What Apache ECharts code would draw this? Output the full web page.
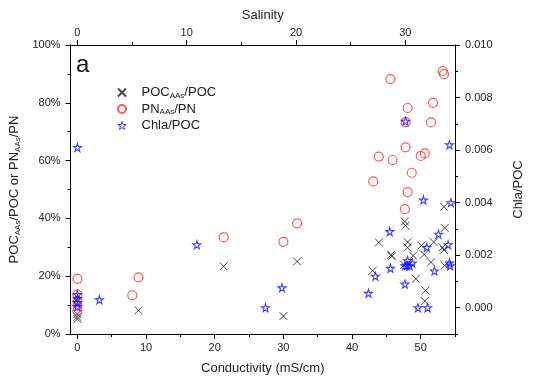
<!DOCTYPE html>
<html><head><meta charset="utf-8">
<script src="https://cdn.jsdelivr.net/npm/echarts@6/dist/echarts.min.js"></script>
<style>html,body{margin:0;padding:0;background:#fff}#c{width:533px;height:380px}</style>
</head><body><div id="c"></div>
<script>
// Data: [conductivity (mS/cm), value]
var pocAAs = [[0,6.9],[0,5.9],[0,5.2],[8.9,8.2],[21.3,23.4],[32.0,25.1],[30.0,6.2],
  [53.4,44.0],[47.7,38.9],[47.8,37.5],[53.5,36.7],[43.9,31.7],[48.1,31.8],[50.1,30.6],[51.9,31.8],
  [48.1,29.9],[53.2,30.0],[53.4,29.1],[45.7,27.4],[45.8,26.9],[48.9,27.1],[50.5,27.5],[51.5,24.8],
  [47.6,23.9],[53.5,23.7],[43.0,21.9],[49.3,19.1],[50.7,15.0],[50.6,11.4]];
var pnAAs = [[0,19.1],[0,13.6],[0,11.4],[0,9.7],[0,8.0],[8.9,19.6],[8.0,13.4],[21.3,33.4],[32.0,38.3],[30.0,31.9],
  [45.6,88.2],[53.2,91.0],[53.4,89.9],[51.8,80.0],[48.1,78.2],[47.8,73.3],[51.5,73.2],[47.8,64.6],
  [43.9,61.4],[45.9,60.2],[50.6,62.5],[50.0,61.6],[48.7,55.8],[43.1,52.8],[48.1,49.1],[47.7,43.2]];
var chlaPOC = [[0,0.0061],[0,0.0005],[0,0.00035],[0,0.0002],[0,0.00005],[3.2,0.0003],[17.4,0.0024],
  [29.8,0.00076],[27.4,0.0],[47.8,0.0071],[54.2,0.0062],[50.4,0.0041],[54.4,0.0040],[45.5,0.0029],
  [52.6,0.0028],[54.0,0.0024],[50.9,0.0023],[48.1,0.0018],[48.0,0.0016],[47.7,0.0016],[48.8,0.0017],
  [48.4,0.0016],[45.6,0.0015],[54.2,0.0017],[54.3,0.0016],[52.0,0.0014],[43.4,0.0012],[47.7,0.0009],
  [42.4,0.00055],[49.6,0.0],[51.0,0.0]];
var condTicks = [0,10,20,30,40,50];
var condMinor = [5,15,25,35,45,55];
var salTicks = [0,10,20,30];
var salMinor = [5,15,25];
var chlaTicks = [0,0.002,0.004,0.006,0.008,0.010];
var chlaMinor = [-0.001,0.001,0.003,0.005,0.007,0.009];

var FONT = 'Liberation Sans';
var TC = '#222';
var lineStyle = {color:'#000', width:1};
var subRich = {
  f:{fontFamily:FONT, fontSize:13, color:TC, padding:[0,0,0,10]},
  n:{fontFamily:FONT, fontSize:13, color:TC},
  s:{fontFamily:FONT, fontSize:8, color:TC, padding:[6,0,0,0]}
};
var xPath = 'path://M0,0L10,10M0,10L10,0';
var starPath = 'path://M50,0L61,35L98,35L68,57L79,91L50,70L21,91L32,57L2,35L39,35Z';

var chart = echarts.init(document.getElementById('c'), null, {renderer:'canvas'});
chart.setOption({
  animation:false,
  backgroundColor:'#fff',
  grid:{left:68, right:63, top:45, bottom:42},
  graphic:[{type:'text', left:76, top:53, style:{text:'a', font:'24px "Liberation Sans"', fill:'#111'}}],
  legend:{
    orient:'vertical', left:112, top:81, itemGap:3, itemWidth:9, itemHeight:8,
    textStyle:{fontFamily:FONT, fontSize:13, color:TC, rich:subRich},
    data:[
      {name:'POC_AAs'},
      {name:'PN_AAs'},
      {name:'Chla/POC', itemStyle:{borderWidth:1}}
    ],
    formatter:function(n){
      if(n==='POC_AAs') return '{f|POC}{s|AAs}{n|/POC}';
      if(n==='PN_AAs') return '{f|PN}{s|AAs}{n|/PN}';
      return '{f|Chla/POC}';
    }
  },
  xAxis:[
    {type:'value', position:'bottom', min:-1, max:55,
     name:'Conductivity (mS/cm)', nameLocation:'middle', nameGap:28,
     nameTextStyle:{fontFamily:FONT, fontSize:13, color:TC},
     axisLine:{show:true, onZero:false, lineStyle:lineStyle},
     axisTick:{show:true, length:5, lineStyle:lineStyle, customValues:condTicks},
     axisLabel:{fontFamily:FONT, fontSize:11, color:TC, margin:8, customValues:condTicks},
     splitLine:{show:false}},
    {type:'value', position:'top', min:-0.628, max:34.54,
     name:'Salinity', nameLocation:'middle', nameGap:23,
     nameTextStyle:{fontFamily:FONT, fontSize:13, color:TC},
     axisLine:{show:true, onZero:false, lineStyle:lineStyle},
     axisTick:{show:true, length:5, lineStyle:lineStyle, customValues:salTicks},
     axisLabel:{fontFamily:FONT, fontSize:11, color:TC, margin:7, customValues:salTicks},
     splitLine:{show:false}},
    {type:'value', position:'bottom', min:-1, max:55,
     axisLine:{show:false, onZero:false}, axisLabel:{show:false}, splitLine:{show:false},
     axisTick:{show:true, length:3, lineStyle:lineStyle, customValues:condMinor}},
    {type:'value', position:'top', min:-0.628, max:34.54,
     axisLine:{show:false, onZero:false}, axisLabel:{show:false}, splitLine:{show:false},
     axisTick:{show:true, length:3, lineStyle:lineStyle, customValues:salMinor}}
  ],
  yAxis:[
    {type:'value', position:'left', min:0, max:100, interval:20,
     name:'{n|POC}{s|AAs}{n|/POC or PN}{s|AAs}{n|/PN}', nameLocation:'middle', nameGap:45,
     nameTextStyle:{fontFamily:FONT, fontSize:13, color:TC, rich:subRich},
     axisLine:{show:true, onZero:false, lineStyle:lineStyle},
     axisTick:{show:true, length:5, lineStyle:lineStyle},
     minorTick:{show:true, splitNumber:2, length:3, lineStyle:lineStyle},
     axisLabel:{fontFamily:FONT, fontSize:11, color:TC, margin:10, formatter:'{value}%'},
     splitLine:{show:false}, minorSplitLine:{show:false}},
    {type:'value', position:'right', min:-0.001, max:0.010,
     name:'Chla/POC', nameLocation:'middle', nameGap:57,
     nameTextStyle:{fontFamily:FONT, fontSize:13, color:TC},
     axisLine:{show:true, onZero:false, lineStyle:lineStyle},
     axisTick:{show:true, length:5, lineStyle:lineStyle, customValues:chlaTicks},
     axisLabel:{fontFamily:FONT, fontSize:11, color:TC, margin:10, customValues:chlaTicks,
       formatter:function(v){return v.toFixed(3);}},
     splitLine:{show:false}},
    {type:'value', position:'right', min:-0.001, max:0.010,
     axisLine:{show:false, onZero:false}, axisLabel:{show:false}, splitLine:{show:false},
     axisTick:{show:true, length:3, lineStyle:lineStyle, customValues:chlaMinor}}
  ],
  series:[
    {name:'POC_AAs', type:'scatter', xAxisIndex:0, yAxisIndex:0, data:pocAAs,
     symbol:xPath, symbolSize:8,
     itemStyle:{color:'rgba(0,0,0,0)', borderColor:'#1a1a1a', borderWidth:1}},
    {name:'PN_AAs', type:'scatter', xAxisIndex:0, yAxisIndex:0, data:pnAAs,
     symbol:'circle', symbolSize:9,
     itemStyle:{color:'rgba(0,0,0,0)', borderColor:'#ff2a2a', borderWidth:1.2}},
    {name:'Chla/POC', type:'scatter', xAxisIndex:0, yAxisIndex:1, data:chlaPOC,
     symbol:starPath, symbolSize:8,
     itemStyle:{color:'rgba(255,255,255,0)', borderColor:'#1010ff', borderWidth:1.1}}
  ]
});
</script>
</body></html>
